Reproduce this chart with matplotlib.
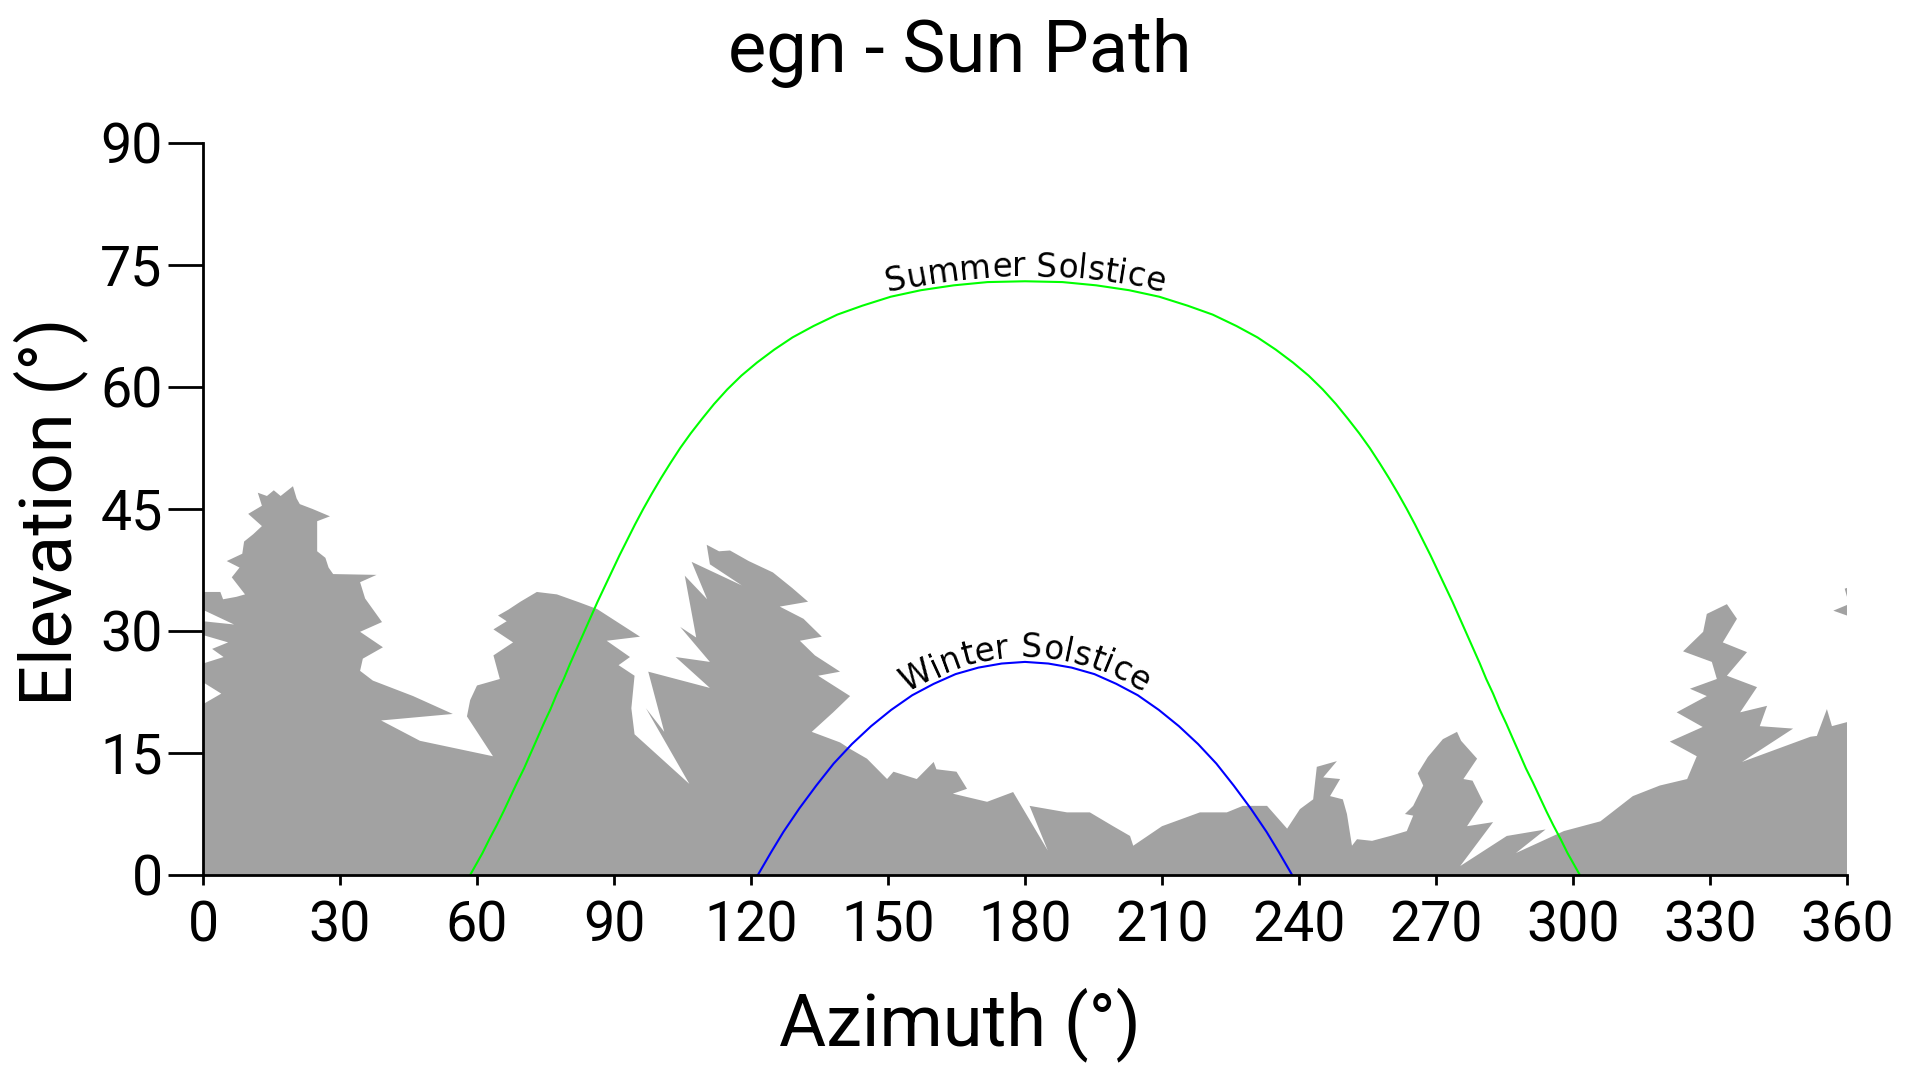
import numpy as np
import matplotlib
matplotlib.use("Agg")
import matplotlib.pyplot as plt
from matplotlib.font_manager import FontProperties

plt.rcParams["font.family"] = ["Roboto", "DejaVu Sans"]

TITLE = "egn - Sun Path"
X_LABEL = "Azimuth (°)"
Y_LABEL = "Elevation (°)"
X_TICKS = list(range(0, 361, 30))
Y_TICKS = list(range(0, 91, 15))

# horizon outline (azimuth, elevation), left to right
HORIZON_AZ = [
    0.0, 0.0, 4.0, 0.0, 0.0, 4.5, 2.0, 5.5, 0.0, 0.0, 6.8, 0.0, 0.0,
    3.8, 4.4, 7.3, 9.2, 6.3, 8.0, 5.2, 8.6, 9.0, 11.0, 12.9, 9.9, 12.9, 12.0, 14.0,
    15.5, 17.0, 19.7, 20.5, 21.2, 24.0, 27.8, 25.0, 25.0, 26.8, 27.5, 28.5, 38.0,
    34.4, 35.5, 39.2, 34.4, 39.4, 35.0, 34.4, 37.2, 46.0, 54.7, 39.0, 47.5, 63.5,
    57.8, 58.5, 60.0, 65.0, 63.6, 67.9, 63.6, 66.5, 64.6, 66.8, 69.5, 73.1, 77.5,
    82.5, 86.3, 91.0, 95.7, 88.4, 93.5, 91.0, 94.5, 93.8, 94.5,
    106.5, 97.0, 101.0, 97.5, 111.0, 103.5, 111.0, 104.5, 108.0, 105.5, 110.4,
    107.0, 118.0, 111.0, 110.3, 113.0, 115.4, 119.5, 124.8,
    129.0, 132.5, 126.3, 131.5, 135.5, 130.7, 134.0, 139.5, 134.7, 141.7, 138.0,
    133.3, 139.5, 141.7, 145.4, 149.8, 151.2, 156.3, 160.0, 160.6, 165.0, 167.3,
    164.2, 171.7, 177.4, 185.0, 181.0, 189.2, 194.2, 199.3, 203.0, 203.7, 210.0,
    218.3, 224.2, 227.7, 233.0, 237.4, 240.2,
    243.1, 243.9, 248.3, 245.3, 249.0, 246.8, 249.6, 250.5, 251.6, 252.7, 256.0,
    260.0, 263.6, 265.0, 263.2, 265.0, 267.2, 266.0, 268.2, 271.5, 274.6, 275.5,
    279.0, 276.0, 278.0, 280.3, 276.8, 282.5, 275.3, 285.5, 294.0, 287.5, 298.0,
    306.0, 313.1, 319.0, 325.0, 327.1, 321.2, 328.4, 322.7, 329.3, 325.6, 331.5,
    330.4, 324.1, 328.5, 329.3, 331.5, 333.7, 335.9, 332.8, 338.1, 333.7, 340.3,
    336.6, 342.5, 340.9, 348.2, 337.0, 352.0, 353.4, 355.6, 356.7, 360.0,
    360.0, 0.0,
]
HORIZON_EL = [
    17.0, 21.0, 22.3, 23.7, 26.0, 26.8, 27.8, 28.6, 29.5, 31.2, 30.8, 32.6, 34.8,
    34.8, 33.9, 34.2, 34.5, 36.6, 37.8, 38.6, 39.5, 41.0, 41.9, 42.9, 44.4, 45.4, 47.0, 46.6,
    47.3, 46.6, 47.8, 46.3, 45.6, 45.0, 44.1, 43.5, 39.8, 39.0, 37.8, 37.0, 36.9,
    36.0, 34.0, 31.1, 29.9, 28.0, 26.6, 25.1, 23.9, 22.0, 19.8, 19.0, 16.5, 14.6,
    19.5, 21.5, 23.3, 24.1, 27.0, 28.6, 30.2, 31.2, 31.9, 32.6, 33.6, 34.8, 34.5,
    33.5, 32.7, 31.0, 29.3, 28.8, 26.8, 25.8, 24.5, 20.5, 17.3,
    11.2, 20.5, 17.6, 25.0, 23.0, 26.8, 26.2, 30.5, 29.2, 36.8, 33.9,
    38.5, 35.6, 38.2, 40.6, 39.8, 39.9, 38.6, 37.2,
    35.3, 33.6, 33.0, 31.5, 29.3, 28.8, 27.0, 25.0, 24.5, 22.0, 20.0,
    17.6, 16.3, 15.5, 14.3, 11.8, 12.7, 11.8, 13.9, 13.0, 12.7, 10.6,
    10.0, 9.0, 10.2, 3.0, 8.5, 7.7, 7.7, 6.0, 4.8, 3.6, 6.0,
    7.7, 7.7, 8.5, 8.5, 5.7, 8.1,
    9.3, 13.3, 14.0, 12.0, 11.8, 9.7, 9.3, 7.5, 3.6, 4.4, 4.2,
    4.8, 5.4, 7.3, 7.5, 8.5, 11.0, 12.5, 14.5, 16.7, 17.6, 16.5,
    14.3, 11.8, 11.6, 9.0, 6.0, 6.5, 1.1, 4.8, 5.6, 2.7, 5.4,
    6.6, 9.7, 11.0, 11.8, 14.6, 16.4, 18.2, 20.0, 22.0, 22.9, 24.1,
    26.2, 27.5, 29.9, 32.1, 32.7, 33.3, 31.5, 28.6, 27.4, 24.5, 23.1,
    20.0, 20.8, 18.3, 18.0, 13.9, 17.0, 17.1, 20.4, 18.3, 18.8,
    0.0, 0.0,
]
# small loose bits at the right edge
EDGE_BITS = [
    ([357.0, 360.0, 360.0], [32.5, 33.2, 31.9]),
    ([359.5, 360.0, 360.0], [35.2, 35.3, 34.2]),
]

SUMMER_AZ = [58.5, 59.6, 61.2, 62.7, 64.3, 65.8, 67.3, 68.8, 70.3, 71.7, 73.2,
             74.6, 76.1, 77.5, 79.0, 80.4, 81.9, 83.4, 84.9, 86.4, 88.0, 89.6,
             91.2, 92.9, 94.6, 96.4, 98.3, 100.3, 102.3, 104.5, 106.8, 109.3,
             111.9, 114.8, 117.9, 121.3, 125.1, 129.1, 133.7, 138.9, 144.4,
             150.6, 157.2, 164.4, 171.8, 180.0,
             188.2, 195.6, 202.8, 209.4, 215.6, 221.1, 226.3, 230.9, 234.9,
             238.7, 242.1, 245.2, 248.1, 250.7, 253.2, 255.5, 257.7, 259.7,
             261.7, 263.6, 265.4, 267.1, 268.8, 270.4, 272.0, 273.6, 275.1,
             276.6, 278.1, 279.6, 281.0, 282.5, 283.9, 285.4, 286.8, 288.3,
             289.7, 291.2, 292.7, 294.2, 295.7, 297.3, 298.8, 300.4, 301.5]
SUMMER_EL = [0.0, 1.1, 2.7, 4.4, 6.1, 7.8, 9.6, 11.4, 13.1, 14.9, 16.8,
             18.6, 20.4, 22.3, 24.1, 26.0, 27.9, 29.8, 31.7, 33.6, 35.5, 37.4,
             39.3, 41.2, 43.1, 45.0, 46.9, 48.8, 50.6, 52.5, 54.3, 56.1,
             57.9, 59.7, 61.4, 63.0, 64.6, 66.1, 67.5, 68.9, 70.0,
             71.1, 71.9, 72.5, 72.9, 73.0,
             72.9, 72.5, 71.9, 71.1, 70.0, 68.9, 67.5, 66.1, 64.6,
             63.0, 61.4, 59.7, 57.9, 56.1, 54.3, 52.5, 50.6, 48.8,
             46.9, 45.0, 43.1, 41.2, 39.3, 37.4, 35.5, 33.6, 31.7,
             29.8, 27.9, 26.0, 24.1, 22.3, 20.4, 18.6, 16.8, 14.9,
             13.1, 11.4, 9.6, 7.8, 6.1, 4.4, 2.7, 1.1, 0.0]

WINTER_AZ = [121.5, 124.4, 127.1, 130.6, 134.3, 138.1, 142.1, 146.3, 150.7, 155.3,
             160.0, 164.8, 169.8, 174.9, 180.0, 185.1, 190.2, 195.2, 200.0, 204.7,
             209.3, 213.7, 217.9, 221.9, 225.7, 229.4, 232.9, 235.6, 238.5]
WINTER_EL = [0.0, 2.8, 5.3, 8.2, 11.0, 13.7, 16.1, 18.3, 20.3, 22.1,
             23.5, 24.7, 25.5, 26.0, 26.2, 26.0, 25.5, 24.7, 23.5, 22.1,
             20.3, 18.3, 16.1, 13.7, 11.0, 8.2, 5.3, 2.8, 0.0]

HORIZON_COLOR = "#a2a2a2"
SUMMER_COLOR = "#00ff00"
WINTER_COLOR = "#0000ff"


def curved_label(fig, ax, xs, ys, label, x_center, offset_px, prop):
    renderer = fig.canvas.get_renderer()
    pts = ax.transData.transform(np.column_stack([xs, ys]))
    seg = np.hypot(np.diff(pts[:, 0]), np.diff(pts[:, 1]))
    s = np.concatenate([[0.0], np.cumsum(seg)])
    s_mid = np.interp(x_center, xs, s)

    def width(t):
        w, _, _ = renderer.get_text_width_height_descent(t + "|", prop, ismath=False)
        return w

    base = width("")
    lefts = [width(label[:i]) - base for i in range(len(label) + 1)]
    total = lefts[-1]
    for i, ch in enumerate(label):
        if ch == " ":
            continue
        sc = s_mid - total / 2 + (lefts[i] + lefts[i + 1]) / 2
        px = np.interp(sc, s, pts[:, 0])
        py = np.interp(sc, s, pts[:, 1])
        x1, y1 = np.interp(sc - 15, s, pts[:, 0]), np.interp(sc - 15, s, pts[:, 1])
        x2, y2 = np.interp(sc + 15, s, pts[:, 0]), np.interp(sc + 15, s, pts[:, 1])
        ang = np.arctan2(y2 - y1, x2 - x1)
        fx = px - np.sin(ang) * offset_px
        fy = py + np.cos(ang) * offset_px
        fig.text(fx / fig.bbox.width, fy / fig.bbox.height, ch,
                 rotation=np.degrees(ang), rotation_mode="anchor",
                 ha="center", va="baseline", fontproperties=prop, color="black")


def main():
    fig = plt.figure(figsize=(19.2, 10.8), dpi=100)
    ax = fig.add_axes([203 / 1920, 205 / 1080, 1644 / 1920, 732 / 1080])

    ax.fill(HORIZON_AZ, HORIZON_EL, color=HORIZON_COLOR, lw=0)
    for bx, by in EDGE_BITS:
        ax.fill(bx, by, color=HORIZON_COLOR, lw=0)

    ax.plot(SUMMER_AZ, SUMMER_EL, color=SUMMER_COLOR, lw=1.5)
    ax.plot(WINTER_AZ, WINTER_EL, color=WINTER_COLOR, lw=1.5)

    ax.set_xlim(0, 360)
    ax.set_ylim(0, 90)
    ax.set_xticks(X_TICKS)
    ax.set_yticks(Y_TICKS)
    ax.spines["top"].set_visible(False)
    ax.spines["right"].set_visible(False)
    for side in ["left", "bottom"]:
        ax.spines[side].set_linewidth(2)
    ax.tick_params(axis="x", direction="out", length=7, width=2, pad=11, labelsize=40)
    ax.tick_params(axis="y", direction="out", length=25, width=2, pad=4, labelsize=40)

    fig.text(0.5, 0.9333, TITLE, ha="center", va="baseline", fontsize=52)
    fig.text(0.5, 0.0324, X_LABEL, ha="center", va="baseline", fontsize=52)
    fig.text(51 / 1920, 0.5264, Y_LABEL, ha="center", va="center", rotation=90, fontsize=52)

    fig.canvas.draw()
    prop = FontProperties(family="DejaVu Sans", size=23.5)
    curved_label(fig, ax, SUMMER_AZ, SUMMER_EL, "Summer Solstice", 180.0, 5, prop)
    curved_label(fig, ax, WINTER_AZ, WINTER_EL, "Winter Solstice", 180.0, 5, prop)

    fig.savefig("out.png", dpi=100)


if __name__ == "__main__":
    main()
